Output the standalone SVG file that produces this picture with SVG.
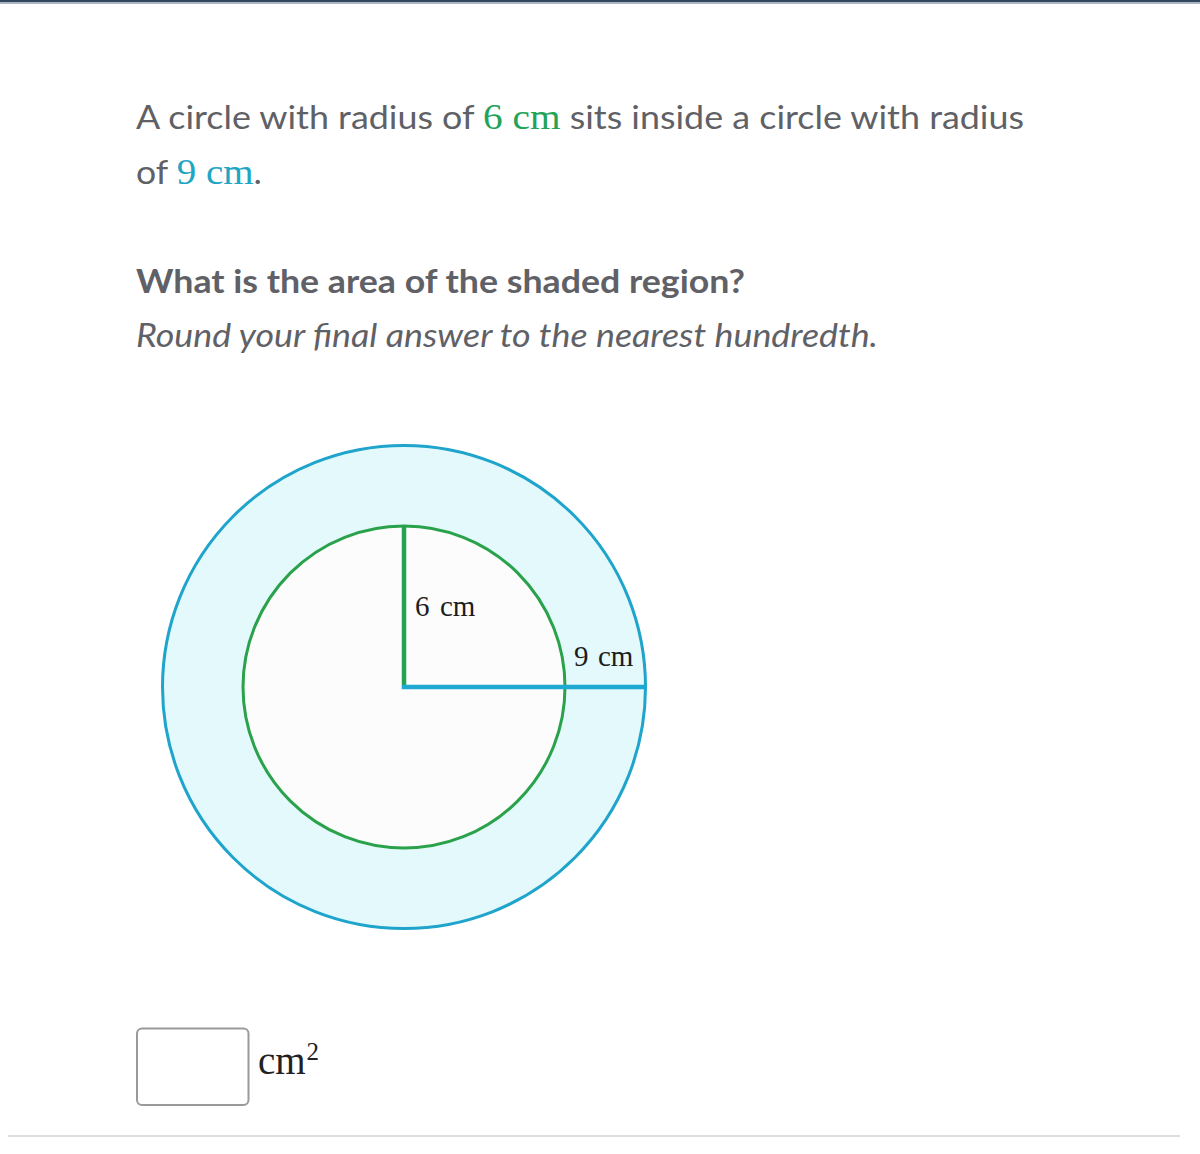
<svg xmlns="http://www.w3.org/2000/svg" width="1200" height="1154" viewBox="0 0 1200 1154">
<style>
.t{font-family:Lato,"Open Sans","Liberation Sans",sans-serif;font-size:32px;fill:#5f6166}
.m{font-family:"Liberation Serif","DejaVu Serif",serif;font-size:35px}
.lbl{font-family:"Liberation Serif","DejaVu Serif",serif;font-size:28px;fill:#1c1c1c}
</style>
<rect x="0" y="0" width="1200" height="1154" fill="#ffffff"/>
<rect x="0" y="0" width="1200" height="2" fill="#34465e"/>
<rect x="0" y="2" width="1200" height="2" fill="#a9b6c4"/>
<g id="question">
<text class="t" x="136" y="129" textLength="888" lengthAdjust="spacingAndGlyphs">A circle with radius of <tspan class="m" fill="#23a357">6 cm</tspan> sits inside a circle with radius</text>
<text class="t" x="136" y="184" textLength="126" lengthAdjust="spacingAndGlyphs">of <tspan class="m" fill="#1fa6c4">9 cm</tspan>.</text>
<text class="t" x="136" y="293" font-weight="bold" textLength="609" lengthAdjust="spacingAndGlyphs">What is the area of the shaded region?</text>
<text class="t" x="136" y="347" font-style="italic" textLength="742" lengthAdjust="spacingAndGlyphs">Round your final answer to the nearest hundredth.</text>
</g>
<g id="outer-circle">
<circle cx="404" cy="687" r="241.5" fill="#e3f9fc" stroke="#1fa4cb" stroke-width="3"/>
</g>
<g id="inner-circle">
<circle cx="404" cy="687" r="161" fill="#fcfcfc" stroke="#2aa24b" stroke-width="3"/>
</g>
<g id="radii">
<line x1="404" y1="526" x2="404" y2="689" stroke="#23a34f" stroke-width="4.5"/>
<line x1="402" y1="687" x2="645" y2="687" stroke="#1ea9d2" stroke-width="4.5"/>
</g>
<g id="labels">
<text class="lbl" y="616" style="font-size:29px"><tspan x="415">6</tspan><tspan x="440">cm</tspan></text>
<text class="lbl" y="666" style="font-size:29px"><tspan x="574">9</tspan><tspan x="598">cm</tspan></text>
</g>
<g id="answer">
<rect x="137" y="1028.5" width="111.5" height="76.5" rx="5" fill="#ffffff" stroke="#9a9a9a" stroke-width="2"/>
<text class="lbl" style="font-size:39px;fill:#222"><tspan x="258" y="1074">cm</tspan><tspan x="306.5" y="1060" style="font-size:25px">2</tspan></text>
</g>
<rect x="8" y="1135" width="1172" height="2" fill="#dddddd"/>
</svg>
